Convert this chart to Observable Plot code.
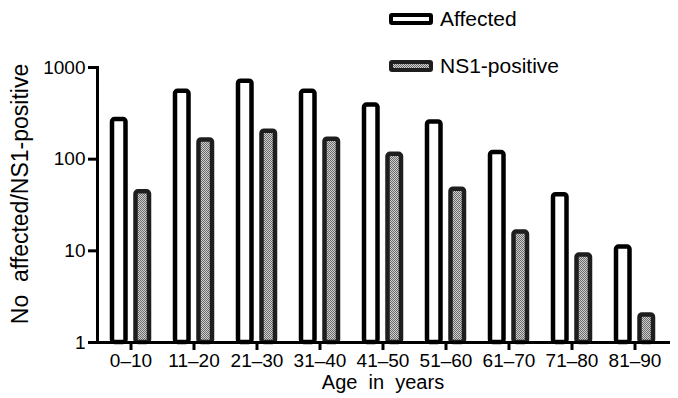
<!DOCTYPE html>
<html><head><meta charset="utf-8">
<script src="https://cdn.jsdelivr.net/npm/d3@7"></script>
<script src="https://cdn.jsdelivr.net/npm/@observablehq/plot@0.6"></script>
<style>
body{margin:0;background:#fff;}
#wrap{position:relative;width:678px;height:398px;font-family:"Liberation Sans",Arial,sans-serif;}
#wrap svg{position:absolute;left:0;top:0;}
</style></head><body><div id="wrap"></div>
<script>
const ages = ["0–10","11–20","21–30","31–40","41–50","51–60","61–70","71–80","81–90"];
const affected = [270, 550, 710, 550, 390, 255, 118, 41, 11];
const ns1Positive = [44, 162, 202, 165, 113, 47, 16, 9, 2];
const seriesNames = ["Affected", "NS1-positive"];
const yTicks = [1, 10, 100, 1000];
const xTitle = "Age  in  years";
const yTitle = "No  affected/NS1-positive";

const affRows = ages.map((a, i) => ({age: a, series: seriesNames[0], value: affected[i]}));
const nsRows = ages.map((a, i) => ({age: a, series: seriesNames[1], value: ns1Positive[i]}));

const font = "Liberation Sans, Arial, sans-serif";
const plot = Plot.plot({
  width: 678, height: 398,
  marginLeft: 97, marginRight: 10, marginTop: 67, marginBottom: 56,
  style: {fontFamily: font, fontSize: "19px", color: "#000", background: "transparent", overflow: "visible"},
  x: {domain: ages, padding: 0, label: null},
  y: {type: "log", domain: [1, 1000], label: null},
  marks: [
    Plot.barY(affRows, {x: "age", y1: 1, y2: "value", fill: "white", stroke: "black", strokeWidth: 4.5,
      insetLeft: 13, insetRight: 36.5, rx: 2.5}),
    Plot.barY(nsRows, {x: "age", y1: 1, y2: "value", fill: "url(#ns1pat)", stroke: "#1e1e1e", strokeWidth: 4.5,
      insetLeft: 36.5, insetRight: 13, rx: 2.5}),
    Plot.axisX({tickSize: 8, tickPadding: 3, strokeWidth: 3, label: null, fontSize: 19}),
    Plot.axisY({ticks: yTicks, tickFormat: d3.format("d"), tickSize: 9, tickPadding: 3, strokeWidth: 3, label: null, fontSize: 19}),
    Plot.frame({anchor: "left", strokeWidth: 3, strokeLinecap: "square"}),
    Plot.frame({anchor: "bottom", strokeWidth: 3, strokeLinecap: "square"})
  ]
});

const ns = "http://www.w3.org/2000/svg";
const defs = document.createElementNS(ns, "defs");
defs.innerHTML = `<pattern id="ns1pat" width="2" height="2" patternUnits="userSpaceOnUse">
  <rect width="2" height="2" fill="#cfcfcf"/><rect width="1" height="1" fill="#6a6a6a"/><rect x="1" y="1" width="1" height="1" fill="#6a6a6a"/></pattern>`;
plot.insertBefore(defs, plot.firstChild);

function addText(parent, str, attrs) {
  const t = document.createElementNS(ns, "text");
  for (const k in attrs) t.setAttribute(k, attrs[k]);
  t.setAttribute("style", "white-space:pre");
  t.textContent = str;
  parent.appendChild(t);
  return t;
}
addText(plot, xTitle, {x: 383, y: 389, "text-anchor": "middle", "font-size": 20, "font-family": font, fill: "#000"});
addText(plot, yTitle, {transform: "translate(28,194) rotate(-90)", "text-anchor": "middle", "font-size": 23, "font-family": font, fill: "#000"});

// legend
const lg = document.createElementNS(ns, "g");
lg.setAttribute("text-anchor", "start");
plot.appendChild(lg);
const swatchFills = ["#fff", "url(#ns1pat)"];
const swatchStroke = ["#000", "#1e1e1e"];
const rowY = [13, 60];
seriesNames.forEach((name, i) => {
  const r = document.createElementNS(ns, "rect");
  r.setAttribute("x", 391); r.setAttribute("y", rowY[i] + 2);
  r.setAttribute("width", 40); r.setAttribute("height", 8);
  r.setAttribute("fill", swatchFills[i]); r.setAttribute("stroke", swatchStroke[i]);
  r.setAttribute("stroke-width", 4); r.setAttribute("rx", 1);
  lg.appendChild(r);
  addText(lg, name, {x: 440, y: rowY[i] + 13, "text-anchor": "start", "font-size": 21, "font-family": font, fill: "#000"});
});

document.getElementById("wrap").appendChild(plot);
</script></body></html>
